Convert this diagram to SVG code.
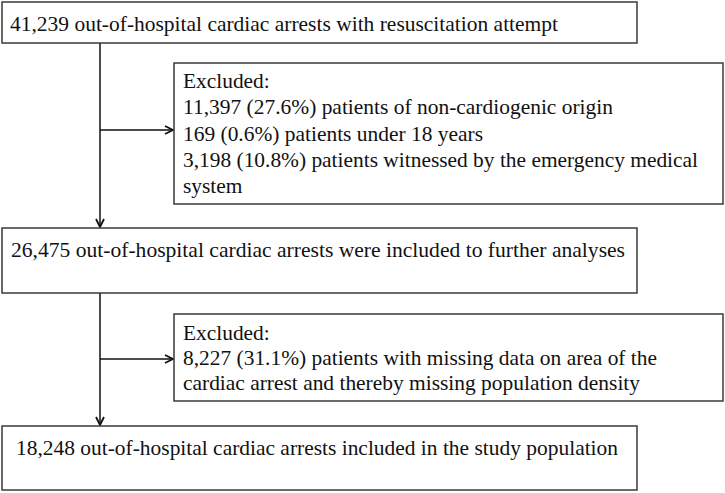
<svg xmlns="http://www.w3.org/2000/svg" width="725" height="493" viewBox="0 0 725 493">
<style>
.box{fill:#fff;stroke:#3a3a3a;stroke-width:1.5}
.c{stroke:#111;stroke-width:1.5;fill:none}
</style>
<defs>
<marker id="ah" viewBox="0 0 10 10" refX="9" refY="5" markerWidth="10" markerHeight="10" markerUnits="userSpaceOnUse" orient="auto">
<path d="M1,1 L9,5 L1,9" fill="none" stroke="#111" stroke-width="1.8"/>
</marker>
</defs>
<g id="connectors">
<path class="c" d="M100,43 V227" marker-end="url(#ah)"/>
<path class="c" d="M100,130 H173" marker-end="url(#ah)"/>
<path class="c" d="M100,293 V425" marker-end="url(#ah)"/>
<path class="c" d="M100,359 H173" marker-end="url(#ah)"/>
</g>
<g font-family="Liberation Serif" font-size="21.4" fill="#111">
<g id="n1">
<rect class="box" x="2" y="2" width="635" height="41"/>
<text x="10" y="31" textLength="548" lengthAdjust="spacingAndGlyphs">41,239 out-of-hospital cardiac arrests with resuscitation attempt</text>
</g>
<g id="n2">
<rect class="box" x="174" y="63" width="549" height="141"/>
<text x="183" y="88">Excluded:</text>
<text x="183" y="114" textLength="430" lengthAdjust="spacingAndGlyphs">11,397 (27.6%) patients of non-cardiogenic origin</text>
<text x="183" y="141" textLength="300" lengthAdjust="spacingAndGlyphs">169 (0.6%) patients under 18 years</text>
<text x="183" y="167" textLength="515" lengthAdjust="spacingAndGlyphs">3,198 (10.8%) patients witnessed by the emergency medical</text>
<text x="183" y="193">system</text>
</g>
<g id="n3">
<rect class="box" x="2" y="228" width="635" height="65"/>
<text x="11" y="257" textLength="614" lengthAdjust="spacingAndGlyphs">26,475 out-of-hospital cardiac arrests were included to further analyses</text>
</g>
<g id="n4">
<rect class="box" x="174" y="314" width="549" height="87"/>
<text x="183" y="340">Excluded:</text>
<text x="183" y="365" textLength="474" lengthAdjust="spacingAndGlyphs">8,227 (31.1%) patients with missing data on area of the</text>
<text x="183" y="390" textLength="457" lengthAdjust="spacingAndGlyphs">cardiac arrest and thereby missing population density</text>
</g>
<g id="n5">
<rect class="box" x="2" y="426" width="635" height="64"/>
<text x="16" y="455" textLength="602" lengthAdjust="spacingAndGlyphs">18,248 out-of-hospital cardiac arrests included in the study population</text>
</g>
</g>
</svg>
